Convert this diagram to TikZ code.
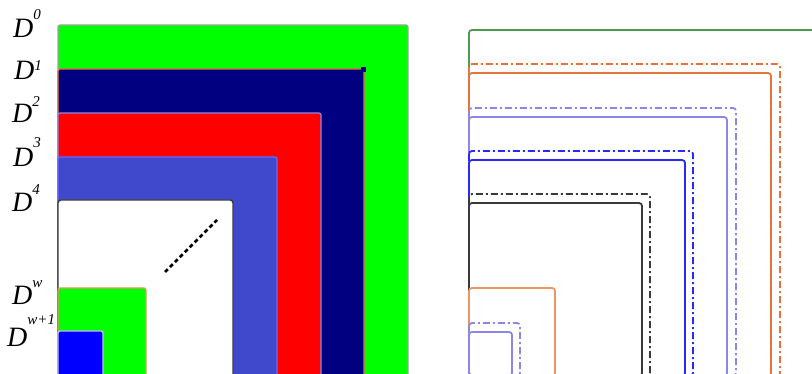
\documentclass[tikz,border=0pt]{standalone}
\usepackage{fontspec}
\setmainfont{Liberation Serif}
\usepackage{xcolor}
\usepackage{tikz}
\definecolor{LayerGreen}{HTML}{00FF00}
\definecolor{LayerNavy}{HTML}{000080}
\definecolor{LayerRed}{HTML}{FF0000}
\definecolor{LayerSlate}{HTML}{4048CC}
\definecolor{LayerBlue}{HTML}{0000FF}
\definecolor{EdgeGray}{HTML}{A0A4A0}
\definecolor{EdgeOrange}{HTML}{E8733A}
\definecolor{EdgeLightOrange}{HTML}{EA9563}
\definecolor{EdgeLavender}{HTML}{8C86E8}
\definecolor{EdgeBlue}{HTML}{2828FF}
\definecolor{EdgeDark}{HTML}{3A3A3A}
\definecolor{EdgeGreen}{HTML}{4E9A52}

\newcommand{\layerlabel}[2]{\textit{D}\raisebox{#1}{\fontsize{15}{15}\selectfont\textit{#2}}}

\begin{document}
\begin{tikzpicture}[x=1pt, y=-1pt,
    layer/.style={line width=1.3pt, rounded corners=2pt},
    ringline/.style={line width=1.8pt, rounded corners=3pt},
    dashdot/.style={ringline, dash pattern=on 7pt off 3pt on 2pt off 3pt},
    lab/.style={anchor=base west, inner sep=0pt, font=\fontsize{28}{28}\selectfont}
]
    \useasboundingbox (0,0) rectangle (812,374);
    \clip (0,0) rectangle (812,374);

    \node[lab] (d0) at (13,38) {\layerlabel{18pt}{0}};
    \node[lab] (d1) at (14,80) {\layerlabel{9pt}{1}};
    \node[lab] (d2) at (12,123) {\layerlabel{16pt}{2}};
    \node[lab] (d3) at (13,167) {\layerlabel{19pt}{3}};
    \node[lab] (d4) at (12,212) {\layerlabel{17pt}{4}};
    \node[lab] (dw) at (12,305) {\layerlabel{17pt}{w}};
    \node[lab] (dw1) at (7,347) {\layerlabel{22pt}{w+1}};

    \filldraw[layer, fill=LayerGreen, draw=EdgeGray] (58,25) rectangle (408,377);
    \filldraw[layer, fill=LayerNavy, draw=EdgeOrange] (58,69) rectangle (364,377);
    \fill[LayerNavy] (361,67) rectangle (366,72);
    \filldraw[layer, fill=LayerRed, draw=EdgeLavender] (58,113) rectangle (321,377);
    \filldraw[layer, fill=LayerSlate, draw=EdgeBlue!70] (58,157) rectangle (277,377);
    \filldraw[layer, fill=white, draw=EdgeDark, rounded corners=3pt] (58,200) rectangle (233,377);
    \filldraw[layer, fill=LayerGreen, draw=EdgeLightOrange] (58,288) rectangle (146,377);
    \filldraw[layer, fill=LayerBlue, draw=EdgeLavender!50] (58,331) rectangle (103,377);
    \draw[line width=2.8pt, dash pattern=on 4pt off 3pt] (165,272) -- (217,220);

    \draw[ringline, draw=EdgeGreen] (469,30) rectangle (830,380);
    \draw[dashdot, draw=EdgeOrange] (469,64) rectangle (780,376);
    \draw[ringline, draw=EdgeOrange] (469,73) rectangle (771,376);
    \draw[dashdot, draw=EdgeLavender] (469,108) rectangle (736,376);
    \draw[ringline, draw=EdgeLavender] (469,117) rectangle (727,376);
    \draw[dashdot, draw=EdgeBlue] (469,151) rectangle (693,376);
    \draw[ringline, draw=EdgeBlue] (469,160) rectangle (685,376);
    \draw[dashdot, draw=EdgeDark] (469,194) rectangle (650,376);
    \draw[ringline, draw=EdgeDark] (469,203) rectangle (642,376);
    \draw[ringline, draw=EdgeLightOrange] (469,288) rectangle (555,376);
    \draw[dashdot, draw=EdgeLavender] (469,323) rectangle (520,376);
    \draw[ringline, draw=EdgeLavender] (469,332) rectangle (512,376);
\end{tikzpicture}
\end{document}
